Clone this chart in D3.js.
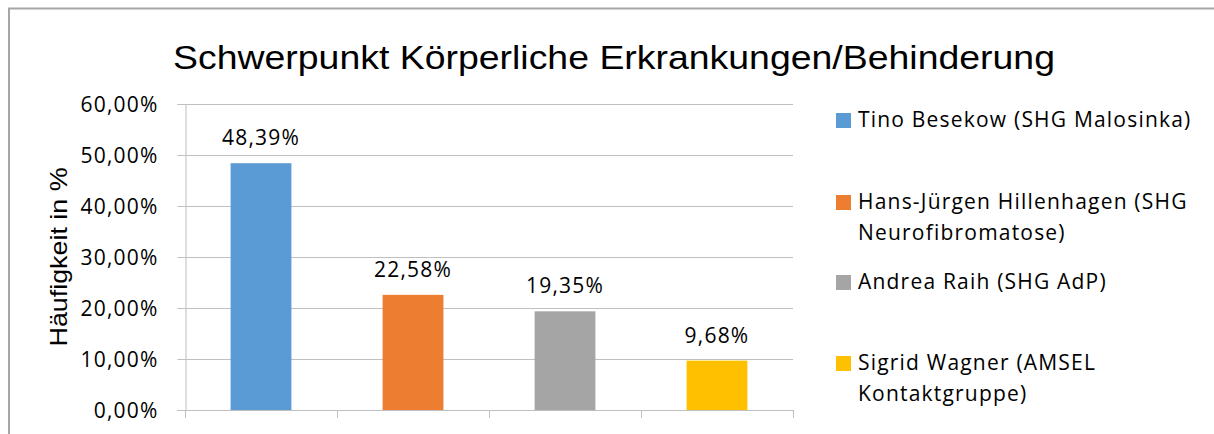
<!DOCTYPE html>
<html>
<head>
<meta charset="utf-8">
<script src="https://cdn.jsdelivr.net/npm/d3@7"></script>
<style>
    body { margin: 0; background: #ffffff; }
    .tickText { font-family: 'Open Sans', sans-serif; font-size: 21px; letter-spacing: 1.2px; fill: #000; }
    .legendText { font-family: 'Open Sans', sans-serif; font-size: 21px; letter-spacing: 1.2px; fill: #000; }
</style>
</head>
<body>
<svg id="chart" width="1214" height="434"></svg>
<script>
    "use strict";

    // Chart data
    var categories = ["Tino Besekow (SHG Malosinka)", "Hans-Jürgen Hillenhagen (SHG Neurofibromatose)", "Andrea Raih (SHG AdP)", "Sigrid Wagner (AMSEL Kontaktgruppe)"];
    var legendLines = [["Tino Besekow (SHG Malosinka)"], ["Hans-Jürgen Hillenhagen (SHG", "Neurofibromatose)"], ["Andrea Raih (SHG AdP)"], ["Sigrid Wagner (AMSEL", "Kontaktgruppe)"]];
    var values = [48.39, 22.58, 19.35, 9.68];
    var yTicks = [0, 10, 20, 30, 40, 50, 60];
    var colors = ["#5B9BD5", "#ED7D31", "#A5A5A5", "#FFC000"];

    const PLOT_LEFT = 185;
    const PLOT_RIGHT = 793;
    const PLOT_TOP = 104;
    const PLOT_BOTTOM = 410;

    var svg = d3.select("#chart");

    // Outer frame (top and left edges visible)
    svg.append("path")
        .attr("d", "M9,434 V8.5 H1214")
        .attr("fill", "none")
        .attr("stroke", "#a6a6a6")
        .attr("stroke-width", 2);

    // Title
    svg.append("text")
        .attr("x", 614)
        .attr("y", 69)
        .attr("text-anchor", "middle")
        .attr("textLength", 882)
        .attr("lengthAdjust", "spacingAndGlyphs")
        .style("font-family", "'Liberation Sans', Arial, sans-serif")
        .style("font-size", "33px")
        .text("Schwerpunkt Körperliche Erkrankungen/Behinderung");

    var x = d3.scaleBand()
        .domain(categories)
        .range([PLOT_LEFT, PLOT_RIGHT])
        .paddingInner(0.6)
        .paddingOuter(0.3);

    var y = d3.scaleLinear()
        .domain([0, 60])
        .range([PLOT_BOTTOM, PLOT_TOP]);

    var fmt = function(v) { return v.toFixed(2).replace(".", ",") + "%"; };

    // Gridlines
    svg.append("g")
        .selectAll("line")
        .data(yTicks.filter(function(d) { return d > 0; }))
        .enter().append("line")
            .attr("x1", PLOT_LEFT)
            .attr("x2", PLOT_RIGHT)
            .attr("y1", function(d) { return Math.round(y(d)) + 0.5; })
            .attr("y2", function(d) { return Math.round(y(d)) + 0.5; })
            .attr("stroke", "#bfbfbf")
            .attr("stroke-width", 1);

    // Y axis
    var yAxis = svg.append("g")
        .attr("transform", "translate(" + (PLOT_LEFT + 0.5) + ",0)")
        .call(d3.axisLeft(y).tickValues(yTicks).tickSize(8).tickPadding(19).tickFormat(fmt));
    yAxis.select(".domain").attr("stroke", "#bfbfbf");
    yAxis.selectAll(".tick line").attr("stroke", "#bfbfbf");
    yAxis.selectAll(".tick text")
        .attr("class", "tickText")
        .attr("fill", "#000")
        .attr("dy", "0.36em")
        .style("font-size", "21px")
        .style("font-family", "'Open Sans', sans-serif");

    // X axis with category boundary ticks
    var boundaries = categories.map(function(d) { return x(d) - x.step() * x.paddingInner() / 2; });
    boundaries.push(PLOT_RIGHT);
    var xAxis = svg.append("g");
    xAxis.append("line")
        .attr("x1", PLOT_LEFT - 8)
        .attr("x2", PLOT_RIGHT)
        .attr("y1", PLOT_BOTTOM + 0.5)
        .attr("y2", PLOT_BOTTOM + 0.5)
        .attr("stroke", "#bfbfbf");
    xAxis.selectAll("line.xtick")
        .data(boundaries)
        .enter().append("line")
            .attr("class", "xtick")
            .attr("x1", function(d) { return Math.round(d) + 0.5; })
            .attr("x2", function(d) { return Math.round(d) + 0.5; })
            .attr("y1", PLOT_BOTTOM)
            .attr("y2", PLOT_BOTTOM + 8)
            .attr("stroke", "#bfbfbf");

    // Bars
    svg.append("g")
        .selectAll("rect")
        .data(values)
        .enter().append("rect")
            .attr("x", function(d, i) { return x(categories[i]); })
            .attr("y", function(d) { return y(d); })
            .attr("width", x.bandwidth())
            .attr("height", function(d) { return y(0) - y(d); })
            .attr("fill", function(d, i) { return colors[i]; });

    // Value labels
    svg.append("g")
        .selectAll("text")
        .data(values)
        .enter().append("text")
            .attr("class", "tickText")
            .attr("x", function(d, i) { return x(categories[i]) + x.bandwidth() / 2; })
            .attr("y", function(d) { return y(d) - 18; })
            .attr("text-anchor", "middle")
            .text(fmt);

    // Y axis title
    svg.append("text")
        .attr("transform", "translate(67,257) rotate(-90)")
        .attr("text-anchor", "middle")
        .attr("textLength", 179)
        .attr("lengthAdjust", "spacingAndGlyphs")
        .style("font-family", "'Liberation Sans', Arial, sans-serif")
        .style("font-size", "24px")
        .text("Häufigkeit in %");

    // Legend
    var legendY = [120, 202, 282, 363];
    var legend = svg.append("g")
        .selectAll("g")
        .data(legendLines)
        .enter().append("g")
            .attr("transform", function(d, i) { return "translate(836," + legendY[i] + ")"; });

    legend.append("rect")
        .attr("x", 0)
        .attr("y", -7)
        .attr("width", 15)
        .attr("height", 15)
        .attr("fill", function(d, i) { return colors[i]; });

    legend.append("text")
        .attr("class", "legendText")
        .selectAll("tspan")
        .data(function(d) { return d; })
        .enter().append("tspan")
            .attr("x", 22)
            .attr("y", function(d, j) { return 7 + j * 31; })
            .text(function(d) { return d; });
</script>
</body>
</html>
